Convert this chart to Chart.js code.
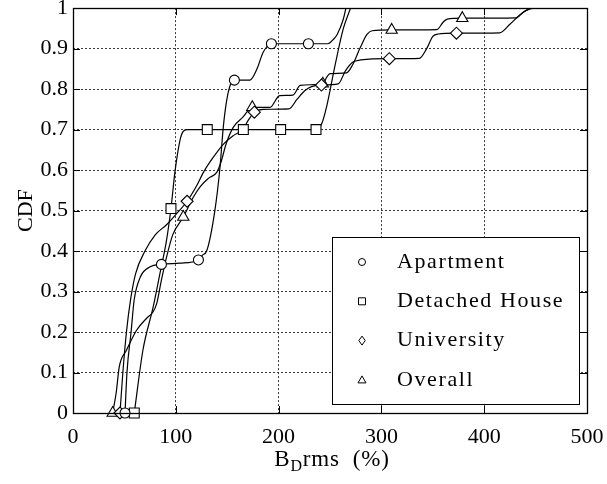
<!DOCTYPE html>
<html lang="en">
<head>
<meta charset="UTF-8">
<title>CDF of BD rms</title>
<script src="https://cdn.jsdelivr.net/npm/chart.js"></script>
<style>
  html, body { margin: 0; padding: 0; background: #fff; }
</style>
</head>
<body>
<canvas id="cdfChart" width="607" height="484"></canvas>
<script>
// axis ticks
const xTicks = [0, 100, 200, 300, 400, 500];
const yTicks = [0, 0.1, 0.2, 0.3, 0.4, 0.5, 0.6, 0.7, 0.8, 0.9, 1];
const seriesNames = ['Apartment', 'Detached House', 'University', 'Overall'];

// Apartment (circles)
const aptX = [50.6, 52.5, 56.5, 59.5, 65.5, 75, 86, 104, 122, 126, 130, 138, 143, 146.2, 149.5, 153, 157, 172, 179, 185, 193, 229, 248, 253, 257, 263, 265.5];
const aptY = [0, 0.1, 0.2, 0.279, 0.336, 0.361, 0.367, 0.37, 0.378, 0.39, 0.40, 0.50, 0.607, 0.706, 0.772, 0.81, 0.822, 0.822, 0.85, 0.891, 0.912, 0.912, 0.912, 0.922, 0.935, 0.973, 1];
const aptMarkX = [50.6, 86, 122, 157, 193, 229];
const aptMarkY = [0, 0.367, 0.378, 0.822, 0.912, 0.912];

// Detached House (squares)
const houseX = [59.6, 68, 78, 84.6, 91, 95.3, 99, 104, 107, 111, 236.4, 242, 247, 255, 263, 270];
const houseY = [0, 0.155, 0.262, 0.345, 0.427, 0.505, 0.592, 0.673, 0.695, 0.70, 0.70, 0.715, 0.76, 0.86, 0.95, 1];
const houseMarkX = [59.6, 95.3, 130.6, 165.7, 202, 236.4];
const houseMarkY = [0, 0.505, 0.7, 0.7, 0.7, 0.7];

// University (diamonds)
const uniX = [45.7, 48.5, 52, 56, 61, 70, 80, 91, 100, 111, 120, 127, 136, 146, 156, 165, 171, 176.4, 185, 210, 218, 226, 232, 240, 258, 265, 272, 280, 308, 337, 344, 350, 355, 373, 415, 425, 438, 447];
const uniY = [0, 0.1, 0.2, 0.28, 0.345, 0.40, 0.44, 0.465, 0.49, 0.523, 0.56, 0.595, 0.63, 0.663, 0.685, 0.70, 0.725, 0.743, 0.75, 0.751, 0.775, 0.797, 0.806, 0.81, 0.813, 0.845, 0.866, 0.872, 0.875, 0.876, 0.9, 0.93, 0.936, 0.938, 0.939, 0.96, 0.99, 1];
const uniMarkX = [45.7, 111, 176.4, 241.7, 307.7, 373];
const uniMarkY = [0, 0.523, 0.743, 0.81, 0.875, 0.938];

// Overall (triangles)
const allX = [38.6, 42, 45, 52, 62, 71.6, 78, 81.4, 86, 91, 97, 107.3, 117, 124, 132, 140, 144, 149, 156, 165, 174.4, 191.6, 201, 214, 221, 243, 247, 250, 266, 272, 279, 286, 291, 310, 354, 360, 364, 379, 431, 438, 445];
const allY = [0, 0.05, 0.114, 0.155, 0.205, 0.234, 0.25, 0.27, 0.328, 0.385, 0.44, 0.484, 0.533, 0.56, 0.58, 0.595, 0.62, 0.665, 0.706, 0.73, 0.755, 0.755, 0.784, 0.785, 0.809, 0.813, 0.83, 0.838, 0.84, 0.86, 0.9, 0.935, 0.944, 0.946, 0.947, 0.965, 0.973, 0.975, 0.976, 0.99, 1];
const allMarkX = [38.6, 107.3, 174.4, 243, 310, 378.7];
const allMarkY = [0, 0.484, 0.755, 0.813, 0.946, 0.975];

const FONT = "'Liberation Serif', 'Times New Roman', serif";
const pts = (xs, ys) => xs.map((x, i) => ({ x: x, y: ys[i] }));

const series = [
    { name: seriesNames[0], style: 'circle', radius: 5, line: pts(aptX, aptY), marks: pts(aptMarkX, aptMarkY) },
    { name: seriesNames[1], style: 'rect', radius: 7, line: pts(houseX, houseY), marks: pts(houseMarkX, houseMarkY) },
    { name: seriesNames[2], style: 'rectRot', radius: 6, line: pts(uniX, uniY), marks: pts(uniMarkX, uniMarkY) },
    { name: seriesNames[3], style: 'triangle', radius: 6.5, line: pts(allX, allY), marks: pts(allMarkX, allMarkY) }
];

const markerSets = series.map(s => ({
    label: s.name,
    data: s.marks,
    showLine: false,
    clip: false,
    pointStyle: s.style,
    pointRadius: s.radius,
    pointBackgroundColor: '#fff',
    pointBorderColor: '#000',
    pointBorderWidth: 1.1,
    order: 0
}));
const lineSets = series.map(s => ({
    label: s.name + ' line',
    data: s.line,
    borderColor: '#000',
    borderWidth: 1.2,
    pointRadius: 0,
    cubicInterpolationMode: 'monotone',
    fill: false,
    order: 1
}));

// small legend marker shapes
function legendMarker(ctx, style, x, y) {
    ctx.beginPath();
    if (style === 'circle') {
        ctx.arc(x, y, 3.5, 0, Math.PI * 2);
    } else if (style === 'rect') {
        ctx.rect(x - 3.5, y - 3.5, 7, 7);
    } else if (style === 'rectRot') {
        ctx.moveTo(x, y - 4.5); ctx.lineTo(x + 3.2, y); ctx.lineTo(x, y + 4.5); ctx.lineTo(x - 3.2, y); ctx.closePath();
    } else {
        ctx.moveTo(x, y - 4); ctx.lineTo(x + 4, y + 3); ctx.lineTo(x - 4, y + 3); ctx.closePath();
    }
    ctx.fill();
    ctx.stroke();
}

const matlabFrame = {
    id: 'matlabFrame',
    afterDatasetsDraw(chart) {
        const { ctx, chartArea: a, scales } = chart;
        ctx.save();

        // legend box
        const lx = a.right - 255, ly = a.bottom - 176, lw = 247, lh = 167;
        ctx.fillStyle = '#fff';
        ctx.fillRect(lx, ly, lw, lh);
        ctx.strokeStyle = '#000';
        ctx.lineWidth = 1;
        ctx.strokeRect(Math.round(lx) + 0.5, Math.round(ly) + 0.5, lw, lh);
        ctx.font = '22px ' + FONT;
        ctx.textBaseline = 'middle';
        ctx.textAlign = 'left';
        if ('letterSpacing' in ctx) ctx.letterSpacing = '1.6px';
        series.forEach((s, i) => {
            const ry = ly + 25 + i * 39.3;
            ctx.fillStyle = '#fff';
            ctx.lineWidth = 1;
            legendMarker(ctx, s.style, lx + 30, ry);
            ctx.fillStyle = '#000';
            ctx.fillText(s.name, lx + 65, ry);
        });
        if ('letterSpacing' in ctx) ctx.letterSpacing = '0px';

        // inward ticks on all sides
        ctx.strokeStyle = '#000';
        ctx.lineWidth = 1;
        ctx.beginPath();
        xTicks.forEach(v => {
            const px = Math.round(scales.x.getPixelForValue(v)) + 0.5;
            ctx.moveTo(px, a.bottom); ctx.lineTo(px, a.bottom - 7);
            ctx.moveTo(px, a.top); ctx.lineTo(px, a.top + 7);
        });
        yTicks.forEach(v => {
            const py = Math.round(scales.y.getPixelForValue(v)) + 0.5;
            ctx.moveTo(a.left, py); ctx.lineTo(a.left + 7, py);
            ctx.moveTo(a.right, py); ctx.lineTo(a.right - 7, py);
        });
        ctx.stroke();

        // axes box
        ctx.lineWidth = 1.3;
        ctx.strokeRect(Math.round(a.left) + 0.5, Math.round(a.top) + 0.5,
            Math.round(a.right - a.left), Math.round(a.bottom - a.top));

        // x axis title with subscript
        const cx = (a.left + a.right) / 2 + 2, by = 466;
        ctx.fillStyle = '#000';
        ctx.textBaseline = 'alphabetic';
        if ('letterSpacing' in ctx) ctx.letterSpacing = '0.8px';
        ctx.font = '23px ' + FONT;
        const wB = ctx.measureText('B').width;
        const wRest = ctx.measureText('rms  (%)').width;
        ctx.font = '16px ' + FONT;
        const wD = ctx.measureText('D').width;
        const x0 = cx - (wB + wD + wRest) / 2;
        ctx.font = '23px ' + FONT;
        ctx.fillText('B', x0, by);
        ctx.font = '16px ' + FONT;
        ctx.fillText('D', x0 + wB, by + 5);
        ctx.font = '23px ' + FONT;
        ctx.fillText('rms  (%)', x0 + wB + wD, by);
        ctx.restore();
    }
};

new Chart(document.getElementById('cdfChart').getContext('2d'), {
    type: 'line',
    data: { datasets: markerSets.concat(lineSets) },
    options: {
        responsive: false,
        animation: false,
        layout: { padding: { top: 8, right: 20, left: 0, bottom: 0 } },
        plugins: { legend: { display: false }, tooltip: { enabled: false } },
        scales: {
            x: {
                type: 'linear',
                min: 0,
                max: 500,
                afterBuildTicks: s => { s.ticks = xTicks.map(v => ({ value: v })); },
                afterFit: s => { s.height = 71; s.paddingLeft = 0; s.paddingRight = 0; },
                ticks: { color: '#000', font: { family: FONT, size: 22 }, padding: 11, maxRotation: 0 },
                grid: { color: '#3a3a3a', lineWidth: 1, drawTicks: false },
                border: { display: false, dash: [2, 2] }
            },
            y: {
                type: 'linear',
                min: 0,
                max: 1,
                afterBuildTicks: s => { s.ticks = yTicks.map(v => ({ value: v })); },
                afterFit: s => { s.width = 73; s.paddingTop = 0; s.paddingBottom = 0; },
                ticks: { color: '#000', font: { family: FONT, size: 22 }, padding: 5,
                    callback: v => String(Math.round(v * 10) / 10) },
                grid: { color: '#3a3a3a', lineWidth: 1, drawTicks: false },
                border: { display: false, dash: [2, 2] },
                title: { display: true, text: 'CDF', color: '#000', font: { family: FONT, size: 22 },
                    padding: { top: 13, bottom: 0 } }
            }
        }
    },
    plugins: [matlabFrame]
});
</script>
</body>
</html>
